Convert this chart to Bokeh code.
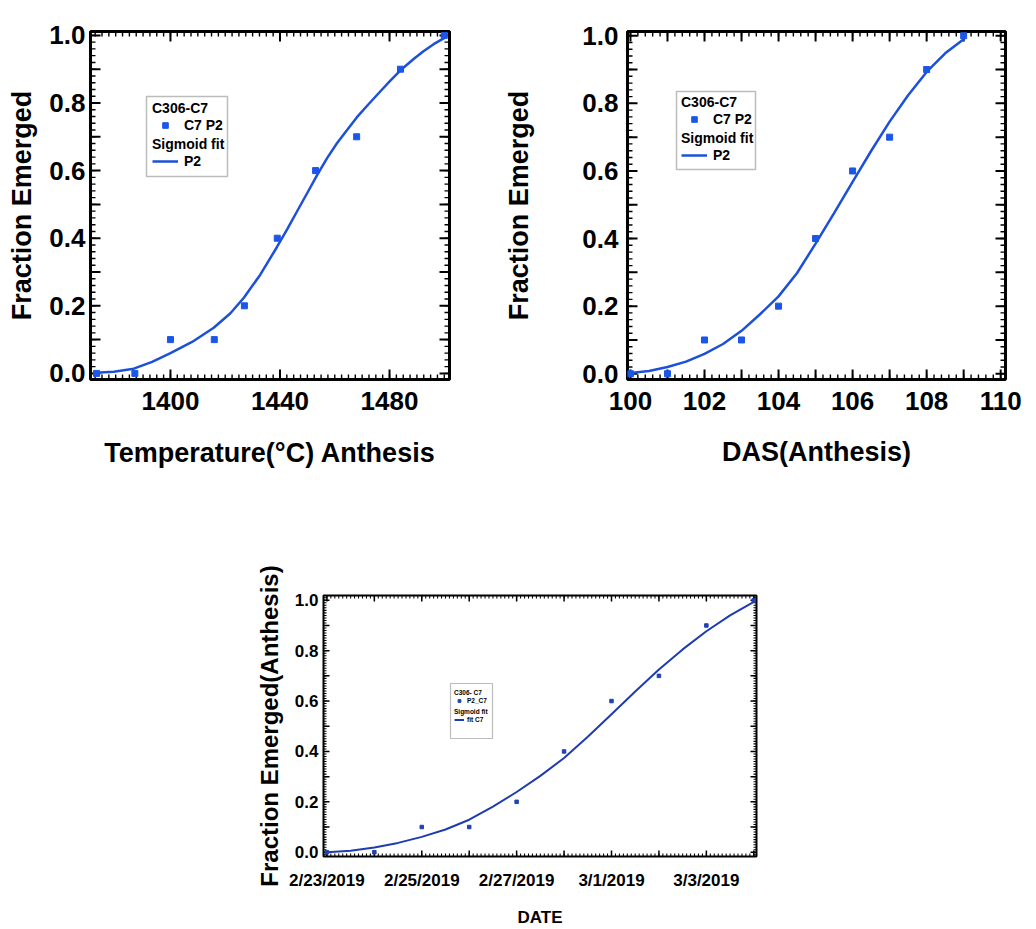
import numpy as np
import pandas as pd
from bokeh.plotting import figure
from bokeh.models import (Range1d, FixedTicker, SingleIntervalTicker,
                          Legend, LegendItem, BoxAnnotation, Spacer)
from bokeh.layouts import row, column
from bokeh.embed import file_html
from bokeh.resources import INLINE

# ---------------- data ----------------
frac_emerged = [0.0, 0.0, 0.1, 0.1, 0.2, 0.4, 0.6, 0.7, 0.9, 1.0]
temp_anthesis = [1373, 1387, 1400, 1416, 1427, 1439, 1453, 1468, 1484, 1500]
das_anthesis = [100, 101, 102, 103, 104, 105, 106, 107, 108, 109]
dates = ["2019-02-23", "2019-02-24", "2019-02-25", "2019-02-26", "2019-02-27",
         "2019-02-28", "2019-03-01", "2019-03-02", "2019-03-03", "2019-03-04"]

fit_temp_x = [1372.6, 1379.3, 1386.6, 1393.3, 1400.0, 1407.9, 1415.8, 1421.9, 1426.8,
              1432.8, 1438.9, 1442.6, 1446.2, 1449.9, 1453.5, 1457.2, 1460.8, 1464.5,
              1468.1, 1472.4, 1476.6, 1480.3, 1483.9, 1488.8, 1492.4, 1496.1, 1500.4]
fit_temp_y = [0.002, 0.005, 0.014, 0.034, 0.060, 0.093, 0.135, 0.178, 0.224,
              0.292, 0.374, 0.426, 0.479, 0.533, 0.586, 0.637, 0.681, 0.720,
              0.758, 0.797, 0.834, 0.866, 0.896, 0.930, 0.953, 0.974, 0.994]

fit_das_x = [100.0, 100.5, 101.0, 101.5, 102.0, 102.5, 103.0, 103.5, 104.0, 104.5,
             105.0, 105.5, 106.0, 106.5, 107.0, 107.5, 108.0, 108.5, 109.0]
fit_das_y = [0.002, 0.008, 0.020, 0.036, 0.059, 0.088, 0.127, 0.176, 0.229, 0.298,
             0.385, 0.475, 0.568, 0.659, 0.746, 0.824, 0.893, 0.948, 0.990]

fit_date_x = ["2019-02-23 00:00", "2019-02-23 12:00", "2019-02-24 00:00", "2019-02-24 12:00",
              "2019-02-25 00:00", "2019-02-25 12:00", "2019-02-26 00:00", "2019-02-26 12:00",
              "2019-02-27 00:00", "2019-02-27 12:00", "2019-02-28 00:00", "2019-02-28 12:00",
              "2019-03-01 00:00", "2019-03-01 12:00", "2019-03-02 00:00", "2019-03-02 12:00",
              "2019-03-03 00:00", "2019-03-03 12:00", "2019-03-04 00:00"]
fit_date_y = [0.000, 0.006, 0.019, 0.037, 0.061, 0.090, 0.129, 0.181, 0.239, 0.303,
              0.374, 0.458, 0.548, 0.638, 0.725, 0.805, 0.877, 0.940, 0.994]

y_ticks = [0.0, 0.1, 0.2, 0.3, 0.4, 0.5, 0.6, 0.7, 0.8, 0.9, 1.0]
y_tick_labels = ["0.0", "", "0.2", "", "0.4", "", "0.6", "", "0.8", "", "1.0"]
temp_ticks = [1400, 1440, 1480]
das_ticks = [100, 101, 102, 103, 104, 105, 106, 107, 108, 109, 110]
das_tick_labels = ["100", "", "102", "", "104", "", "106", "", "108", "", "110"]
date_tick_labels = ["2/23/2019", "", "2/25/2019", "", "2/27/2019", "",
                    "3/1/2019", "", "3/3/2019", ""]

# ---------------- styles ----------------
FONT = "Liberation Sans"
MARK_BLUE = "#1a56e8"
LINE_BLUE = "#1c50d8"
MARK_NAVY = "#2242b0"
LINE_NAVY = "#1f3cae"


def ms(s):
    return float((pd.Timestamp(s) - pd.Timestamp("1970-01-01")) / pd.Timedelta("1ms"))


def label_axis(ax, size, standoff, title, title_size, title_standoff):
    """Axis that carries the tick labels and the title; its own ticks are off."""
    ax.axis_line_color = None
    ax.major_tick_line_color = None
    ax.minor_tick_line_color = None
    ax.major_tick_in = 0
    ax.major_tick_out = 0
    ax.minor_tick_in = 0
    ax.minor_tick_out = 0
    ax.major_label_text_font = FONT
    ax.major_label_text_font_size = size
    ax.major_label_text_font_style = "bold"
    ax.major_label_text_color = "black"
    ax.major_label_standoff = standoff
    ax.axis_label = title
    ax.axis_label_text_font = FONT
    ax.axis_label_text_font_size = title_size
    ax.axis_label_text_font_style = "bold"
    ax.axis_label_text_color = "black"
    ax.axis_label_standoff = title_standoff


def inside(vals, lo, hi):
    return [float(v) for v in vals if lo <= v <= hi]


def edge_ticks(p, x_major, x_minor, y_major, y_minor, big, small, w):
    """Inward ticks on all four frame edges: dash markers centred on the edge,
    the outer half is clipped away by the frame."""
    x0, x1 = p.x_range.start, p.x_range.end
    y0, y1 = p.y_range.start, p.y_range.end
    xM, xm = inside(x_major, x0, x1), inside(x_minor, x0, x1)
    yM, ym = inside(y_major, y0, y1), inside(y_minor, y0, y1)
    for yy in (y0, y1):
        p.scatter(xM, [yy] * len(xM), marker="dash", size=2 * big, angle=np.pi / 2,
                  line_color="black", line_width=w)
        p.scatter(xm, [yy] * len(xm), marker="dash", size=2 * small, angle=np.pi / 2,
                  line_color="black", line_width=w * 0.7)
    for xx in (x0, x1):
        p.scatter([xx] * len(yM), yM, marker="dash", size=2 * big,
                  line_color="black", line_width=w)
        p.scatter([xx] * len(ym), ym, marker="dash", size=2 * small,
                  line_color="black", line_width=w * 0.7)


def make_legends(p, sc, ln, title1, lab1, lab2, size, loc1, loc2,
                 glyph_w, glyph_h, standoff, pad):
    common = dict(border_line_color=None, background_fill_alpha=0, padding=pad, margin=0,
                  spacing=0, label_text_font=FONT, label_text_font_size=size,
                  label_text_font_style="bold", label_text_color="black",
                  title_text_font=FONT, title_text_font_size=size,
                  title_text_font_style="bold", title_text_color="black",
                  glyph_width=glyph_w, glyph_height=glyph_h, label_height=glyph_h,
                  label_standoff=standoff, title_standoff=1)
    l1 = Legend(items=[LegendItem(label=lab1, renderers=[sc])], title=title1,
                location=loc1, **common)
    l2 = Legend(items=[LegendItem(label=lab2, renderers=[ln])], title="Sigmoid fit",
                location=loc2, **common)
    p.add_layout(l1)
    p.add_layout(l2)


def legend_box(p, l, t, r, b, w):
    p.add_layout(BoxAnnotation(left=l, right=r, top=t, bottom=b,
                               left_units="canvas", right_units="canvas",
                               top_units="canvas", bottom_units="canvas",
                               fill_color=None, line_color="#222222", line_width=w))


def base_fig(w, h, bl, br, bt, bb, xr, yr, outline_w, xtype="linear"):
    p = figure(width=w, height=h, x_range=xr, y_range=yr, x_axis_type=xtype,
               output_backend="svg", toolbar_location=None,
               min_border_left=bl, min_border_right=br, min_border_top=bt,
               min_border_bottom=bb, background_fill_color="white",
               border_fill_color="white")
    p.xgrid.visible = False
    p.ygrid.visible = False
    p.outline_line_color = "black"
    p.outline_line_width = outline_w
    return p


y_override = {t: s for t, s in zip(y_ticks, y_tick_labels)}
y_minor_fine = list(np.round(np.arange(-0.04, 1.06, 0.02), 4))

# ---------------- figure 1: temperature ----------------
p1 = base_fig(460, 470, 90, 11, 23, 89, Range1d(1370.8, 1501.9), Range1d(-0.018, 1.0115), 3)
p1.xaxis.ticker = FixedTicker(ticks=temp_ticks)
p1.yaxis.ticker = FixedTicker(ticks=y_ticks)
p1.yaxis.major_label_overrides = y_override
label_axis(p1.xaxis[0], "26px", 12, "Temperature(°C) Anthesis", "27px", 25)
label_axis(p1.yaxis[0], "26px", 5, "Fraction Emerged", "27px", 9)
edge_ticks(p1, temp_ticks, np.arange(1360.0, 1510.0, 2.5), y_ticks, y_minor_fine, 10, 5, 2)
ln1 = p1.line(fit_temp_x, fit_temp_y, line_color=LINE_BLUE, line_width=2.5)
sc1 = p1.scatter(temp_anthesis, frac_emerged, marker="square", size=6,
                 fill_color=MARK_BLUE, line_color=MARK_BLUE)
make_legends(p1, sc1, ln1, "C306-C7", "C7 P2", "P2", "14px",
             (62, 246), (62, 210), 26, 14, 6, 2)
legend_box(p1, 146, 96, 227, 176, 1.5)

# ---------------- figure 2: DAS ----------------
p2 = base_fig(576, 470, 167, 31, 31, 89, Range1d(99.92, 110.13), Range1d(-0.017, 1.0126), 3)
p2.xaxis.ticker = FixedTicker(ticks=das_ticks)
p2.yaxis.ticker = FixedTicker(ticks=y_ticks)
p2.xaxis.major_label_overrides = {t: s for t, s in zip(das_ticks, das_tick_labels)}
p2.yaxis.major_label_overrides = y_override
label_axis(p2.xaxis[0], "26px", 12, "DAS(Anthesis)", "27px", 24)
label_axis(p2.yaxis[0], "26px", 9, "Fraction Emerged", "27px", 45)
edge_ticks(p2, das_ticks, np.round(np.arange(99.0, 111.0, 0.2), 4), y_ticks, y_minor_fine,
           10, 5, 2)
ln2 = p2.line(fit_das_x, fit_das_y, line_color=LINE_BLUE, line_width=2.5)
sc2 = p2.scatter(das_anthesis, frac_emerged, marker="square", size=6,
                 fill_color=MARK_BLUE, line_color=MARK_BLUE)
make_legends(p2, sc2, ln2, "C306-C7", "C7 P2", "P2", "14px",
             (54, 252), (54, 216), 26, 14, 6, 2)
legend_box(p2, 216, 91, 295, 169, 1.5)

# ---------------- figure 3: date ----------------
DAY = 86400000.0
date_ms = [ms(d) for d in dates]
p3 = base_fig(526, 459, 73, 20, 125, 66,
              Range1d(date_ms[0] - 0.072 * DAY, date_ms[-1] + 0.057 * DAY),
              Range1d(-0.017, 1.019), 2, xtype="datetime")
p3.xaxis.ticker = FixedTicker(ticks=date_ms)
p3.yaxis.ticker = FixedTicker(ticks=y_ticks)
p3.xaxis.major_label_overrides = {t: s for t, s in zip(date_ms, date_tick_labels)}
p3.yaxis.major_label_overrides = y_override
label_axis(p3.xaxis[0], "17px", 14, "DATE", "17px", 15)
label_axis(p3.yaxis[0], "17px", 5, "Fraction Emerged(Anthesis)", "24px", 9)
edge_ticks(p3, date_ms, np.arange(date_ms[0] - DAY, date_ms[-1] + DAY, DAY / 12),
           y_ticks, np.round(np.arange(-0.02, 1.03, 0.01), 4), 6, 3, 1.5)
ln3 = p3.line(pd.to_datetime(fit_date_x), fit_date_y, line_color=LINE_NAVY, line_width=2)
sc3 = p3.scatter(pd.to_datetime(dates), frac_emerged, marker="square", size=3.5,
                 fill_color=MARK_NAVY, line_color=MARK_NAVY)
make_legends(p3, sc3, ln3, "C306- C7", "P2_C7", "fit C7", "6.5px",
             (131, 152), (131, 133), 10, 7, 3, 1)
legend_box(p3, 200, 213, 242, 268, 1.2)

layout = column(row(p1, p2), row(Spacer(width=250, height=459), p3))
open("out.html", "w").write(file_html(layout, INLINE))
